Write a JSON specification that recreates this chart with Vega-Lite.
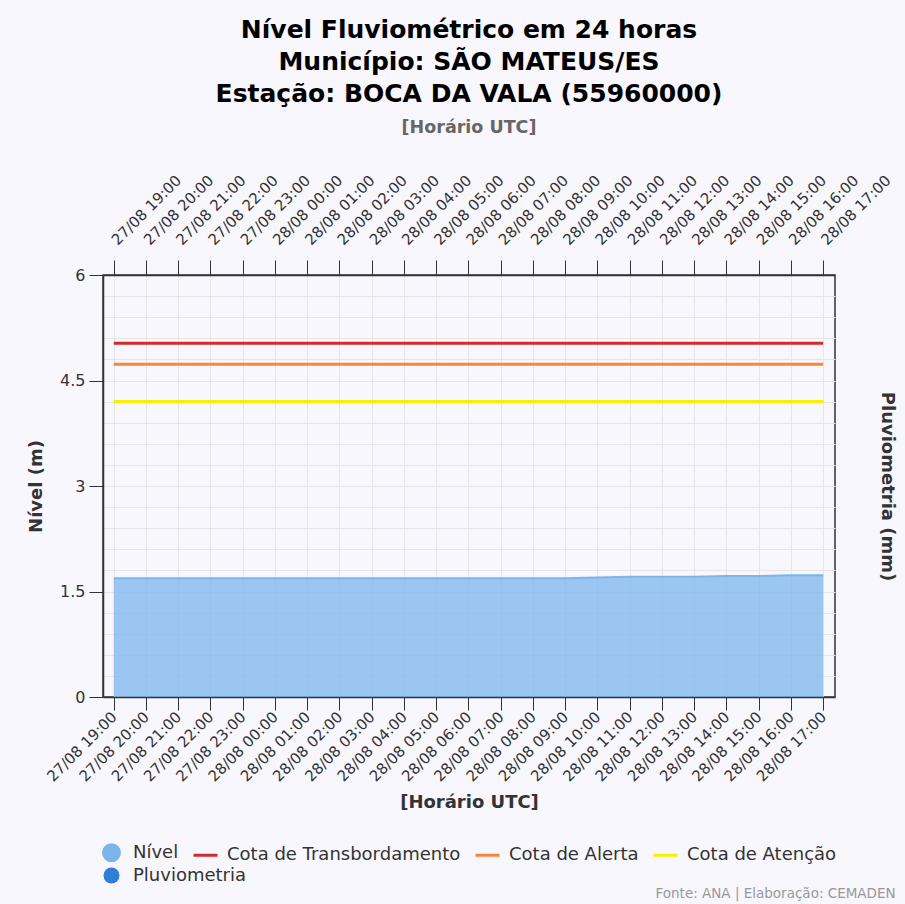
{
  "$schema": "https://vega.github.io/schema/vega-lite/v6.json",
  "width": 732,
  "height": 422,
  "autosize": {"type": "none"},
  "padding": {"left": 103, "top": 275, "right": 70, "bottom": 207},
  "background": "#f7f7fd",
  "config": {
    "view": {"fill": "white", "stroke": "#333333", "strokeWidth": 1.5},
    "font": "Verdana, DejaVu Sans, sans-serif"
  },
  "title": {
    "text": ["Nível Fluviométrico em 24 horas", "Município: SÃO MATEUS/ES", "Estação: BOCA DA VALA (55960000)"],
    "subtitle": "[Horário UTC]",
    "anchor": "middle",
    "font": "Verdana, DejaVu Sans, sans-serif",
    "fontSize": 25,
    "fontWeight": "bold",
    "color": "#000000",
    "lineHeight": 32,
    "subtitleFont": "Verdana, DejaVu Sans, sans-serif",
    "subtitleFontSize": 17.5,
    "subtitleFontWeight": "bold",
    "subtitleColor": "#666666",
    "subtitlePadding": 12,
    "offset": 36
  },
  "datasets": {
    "nivel": [
      {"serie": "Nível", "hora": "2024-08-27T19:00:00Z", "nivel": 1.69},
      {"serie": "Nível", "hora": "2024-08-27T20:00:00Z", "nivel": 1.69},
      {"serie": "Nível", "hora": "2024-08-27T21:00:00Z", "nivel": 1.69},
      {"serie": "Nível", "hora": "2024-08-27T22:00:00Z", "nivel": 1.69},
      {"serie": "Nível", "hora": "2024-08-27T23:00:00Z", "nivel": 1.69},
      {"serie": "Nível", "hora": "2024-08-28T00:00:00Z", "nivel": 1.69},
      {"serie": "Nível", "hora": "2024-08-28T01:00:00Z", "nivel": 1.69},
      {"serie": "Nível", "hora": "2024-08-28T02:00:00Z", "nivel": 1.69},
      {"serie": "Nível", "hora": "2024-08-28T03:00:00Z", "nivel": 1.69},
      {"serie": "Nível", "hora": "2024-08-28T04:00:00Z", "nivel": 1.69},
      {"serie": "Nível", "hora": "2024-08-28T05:00:00Z", "nivel": 1.69},
      {"serie": "Nível", "hora": "2024-08-28T06:00:00Z", "nivel": 1.69},
      {"serie": "Nível", "hora": "2024-08-28T07:00:00Z", "nivel": 1.69},
      {"serie": "Nível", "hora": "2024-08-28T08:00:00Z", "nivel": 1.69},
      {"serie": "Nível", "hora": "2024-08-28T09:00:00Z", "nivel": 1.69},
      {"serie": "Nível", "hora": "2024-08-28T10:00:00Z", "nivel": 1.70},
      {"serie": "Nível", "hora": "2024-08-28T11:00:00Z", "nivel": 1.71},
      {"serie": "Nível", "hora": "2024-08-28T12:00:00Z", "nivel": 1.71},
      {"serie": "Nível", "hora": "2024-08-28T13:00:00Z", "nivel": 1.71},
      {"serie": "Nível", "hora": "2024-08-28T14:00:00Z", "nivel": 1.72},
      {"serie": "Nível", "hora": "2024-08-28T15:00:00Z", "nivel": 1.72},
      {"serie": "Nível", "hora": "2024-08-28T16:00:00Z", "nivel": 1.73},
      {"serie": "Nível", "hora": "2024-08-28T17:00:00Z", "nivel": 1.73}
    ],
    "cotas": [
      {"serie": "Cota de Transbordamento", "valor": 5.03, "inicio": "2024-08-27T19:00:00Z", "fim": "2024-08-28T17:00:00Z"},
      {"serie": "Cota de Alerta", "valor": 4.73, "inicio": "2024-08-27T19:00:00Z", "fim": "2024-08-28T17:00:00Z"},
      {"serie": "Cota de Atenção", "valor": 4.20, "inicio": "2024-08-27T19:00:00Z", "fim": "2024-08-28T17:00:00Z"}
    ],
    "pluviometria": []
  },
  "layer": [
    {
      "data": {"name": "nivel"},
      "mark": {"type": "area", "fillOpacity": 0.75, "line": {"strokeWidth": 2}},
      "encoding": {
        "x": {
          "field": "hora",
          "type": "temporal",
          "scale": {
            "type": "utc",
            "nice": false,
            "domain": [
              {"year": 2024, "month": 8, "date": 27, "hours": 18, "minutes": 40, "utc": true},
              {"year": 2024, "month": 8, "date": 28, "hours": 17, "minutes": 22, "utc": true}
            ]
          },
          "axis": {
            "orient": "bottom",
            "labelExpr": "utcFormat(datum.value, '%d/%m %H:%M')",
            "tickCount": 23,
            "labelAngle": -45,
            "labelAlign": "right",
            "labelBaseline": "middle",
            "labelFontSize": 15,
            "labelColor": "#333333",
            "labelPadding": 4,
            "labelOverlap": false,
            "labelFlush": false,
            "labelBound": false,
            "tickSize": 13,
            "tickColor": "#333333",
            "domainColor": "#333333",
            "domainWidth": 1.5,
            "grid": true,
            "gridColor": "#e6e6e6",
            "title": "[Horário UTC]",
            "titleFontSize": 18,
            "titleFontWeight": "bold",
            "titleColor": "#333333",
            "titlePadding": 9
          }
        },
        "y": {
          "field": "nivel",
          "type": "quantitative",
          "scale": {"domain": [0, 6], "nice": false},
          "axis": {
            "orient": "left",
            "values": [0, 1.5, 3, 4.5, 6],
            "format": ".2~f",
            "labelFontSize": 16,
            "labelColor": "#333333",
            "labelPadding": 4,
            "tickSize": 14,
            "tickColor": "#333333",
            "domainColor": "#333333",
            "domainWidth": 1.5,
            "grid": false,
            "title": "Nível (m)",
            "titleFontSize": 18,
            "titleFontWeight": "bold",
            "titleColor": "#333333",
            "titlePadding": 14
          }
        },
        "color": {
          "field": "serie",
          "type": "nominal",
          "scale": {
            "domain": ["Nível", "Cota de Transbordamento", "Cota de Alerta", "Cota de Atenção"],
            "range": ["#7cb5ec", "#d42a2a", "#f5883c", "#f7f000"]
          },
          "legend": {
            "orient": "none",
            "legendX": -5,
            "legendY": 564,
            "direction": "horizontal",
            "columns": 4,
            "title": null,
            "labelFontSize": 18,
            "labelColor": "#333333",
            "labelLimit": 0,
            "labelOffset": 8,
            "columnPadding": 8,
            "symbolSize": 576,
            "encode": {
              "symbols": {
                "update": {
                  "shape": {"signal": "datum.value == 'Nível' ? 'circle' : 'stroke'"},
                  "fill": {"signal": "datum.value == 'Nível' ? '#7cb5ec' : 'transparent'"},
                  "stroke": {"signal": "datum.value == 'Cota de Transbordamento' ? '#d42a2a' : (datum.value == 'Cota de Alerta' ? '#f5883c' : (datum.value == 'Cota de Atenção' ? '#f7f000' : 'transparent'))"},
                  "size": {"signal": "datum.value == 'Nível' ? 256 : 576"},
                  "strokeWidth": {"value": 3},
                  "opacity": {"value": 1}
                }
              }
            }
          }
        }
      }
    },
    {
      "data": {"name": "cotas"},
      "mark": {"type": "rule", "strokeWidth": 3},
      "encoding": {
        "x": {
          "field": "inicio",
          "type": "temporal",
          "scale": {
            "type": "utc",
            "nice": false,
            "domain": [
              {"year": 2024, "month": 8, "date": 27, "hours": 18, "minutes": 40, "utc": true},
              {"year": 2024, "month": 8, "date": 28, "hours": 17, "minutes": 22, "utc": true}
            ]
          },
          "axis": {
            "orient": "top",
            "labelExpr": "utcFormat(datum.value, '%d/%m %H:%M')",
            "tickCount": 23,
            "labelAngle": -45,
            "labelAlign": "left",
            "labelBaseline": "middle",
            "labelFontSize": 15,
            "labelColor": "#333333",
            "labelPadding": 18,
            "labelOverlap": false,
            "labelFlush": false,
            "labelBound": false,
            "tickSize": 15,
            "tickColor": "#333333",
            "domainColor": "#333333",
            "domainWidth": 1.5,
            "grid": false,
            "title": "Fonte: ANA | Elaboração: CEMADEN",
            "titleX": 552,
            "titleY": 622,
            "titleAngle": 0,
            "titleAlign": "left",
            "titleBaseline": "alphabetic",
            "titleFontSize": 13.5,
            "titleFontWeight": "normal",
            "titleColor": "#999999"
          }
        },
        "x2": {"field": "fim"},
        "y": {
          "field": "valor",
          "type": "quantitative",
          "scale": {"domain": [0, 6], "nice": false},
          "axis": {
            "orient": "right",
            "values": [0, 0.3, 0.6, 0.9, 1.2, 1.5, 1.8, 2.1, 2.4, 2.7, 3, 3.3, 3.6, 3.9, 4.2, 4.5, 4.8, 5.1, 5.4, 5.7, 6],
            "labels": false,
            "ticks": false,
            "domain": false,
            "grid": true,
            "gridColor": "#e6e6e6",
            "title": "Pluviometria (mm)",
            "titleFontSize": 18,
            "titleFontWeight": "bold",
            "titleColor": "#333333",
            "titleAngle": 90,
            "titlePadding": 42
          }
        },
        "color": {"field": "serie", "type": "nominal"}
      }
    },
    {
      "data": {"name": "pluviometria"},
      "mark": {"type": "point", "filled": true},
      "encoding": {
        "fill": {
          "field": "serie",
          "type": "nominal",
          "scale": {"domain": ["Pluviometria"], "range": ["#2f7ed8"]},
          "legend": {
            "orient": "none",
            "legendX": -1,
            "legendY": 591,
            "title": null,
            "labelFontSize": 18,
            "labelColor": "#333333",
            "labelLimit": 0,
            "labelOffset": 12,
            "symbolSize": 256,
            "symbolType": "circle",
            "symbolStrokeWidth": 3,
            "symbolStrokeColor": "transparent",
            "symbolFillColor": "#2f7ed8",
            "symbolOpacity": 1
          }
        }
      }
    }
  ],
  "resolve": {"scale": {"x": "independent", "y": "independent"}}
}
